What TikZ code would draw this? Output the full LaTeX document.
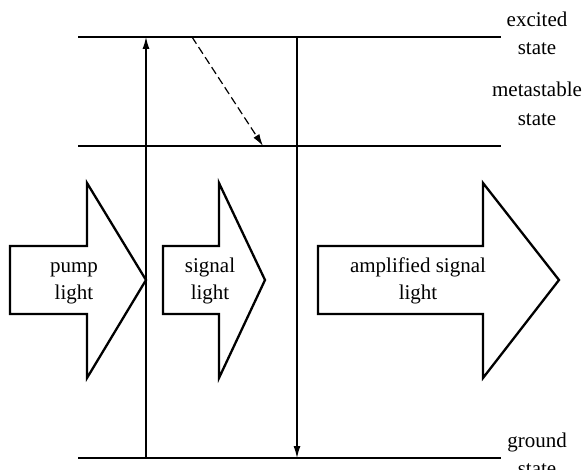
\documentclass[tikz,border=0pt]{standalone}
\usepackage{fontspec}
\setmainfont{Liberation Serif}
\usetikzlibrary{arrows.meta}
\begin{document}
\begin{tikzpicture}[x=1pt,y=-1pt,
  level/.style={line width=2.5pt},
  trans/.style={line width=1.2pt,-{Latex[length=12pt,width=7pt]}},
  dtrans/.style={line width=1.2pt,dash pattern=on 8pt off 4pt,-{Latex[length=12pt,width=7pt]}},
  blockarrow/.style={line width=2.3pt,line join=miter},
  lbl/.style={inner sep=0pt,anchor=base,font=\fontsize{21}{26}\selectfont}]
\useasboundingbox (0,0) rectangle (584,470);
% energy levels
\coordinate (exL) at (78,37);   \coordinate (exR) at (501,37);
\coordinate (meL) at (78,146);  \coordinate (meR) at (501,146);
\coordinate (grL) at (78,458);  \coordinate (grR) at (501,458);
\draw[level] (exL) -- (exR);
\draw[level] (meL) -- (meR);
\draw[level] (grL) -- (grR);
% level labels
\node[lbl] (ex1) at (537,27) {excited};
\node[lbl] (ex2) at (537,55) {state};
\node[lbl] (me1) at (537,97) {metastable};
\node[lbl] (me2) at (537,126) {state};
\node[lbl] (gr1) at (537,447) {ground};
\node[lbl] (gr2) at (537,475) {state};
% transitions
\coordinate (upB) at (146,458); \coordinate (upT) at (146,37);
\coordinate (dnT) at (297,37);  \coordinate (dnB) at (297,458);
\coordinate (dsA) at (192,37);  \coordinate (dsB) at (263,146);
\draw[trans] (upB) -- (upT);
\draw[trans] (dnT) -- (dnB);
\draw[dtrans] (dsA) -- (dsB);
% block arrows
\draw[blockarrow] (10,246) -- (87,246) -- (87,183) -- (146,280) -- (87,378) -- (87,314) -- (10,314) -- cycle;
\draw[blockarrow] (163,246) -- (219,246) -- (219,183) -- (265,280) -- (219,378) -- (219,314) -- (163,314) -- cycle;
\draw[blockarrow] (318,246) -- (483,246) -- (483,183) -- (559,280) -- (483,378) -- (483,314) -- (318,314) -- cycle;
% arrow texts
\node[lbl] (pu1) at (74,273) {pump};
\node[lbl] (pu2) at (74,300) {light};
\node[lbl] (si1) at (210,273) {signal};
\node[lbl] (si2) at (210,300) {light};
\node[lbl] (am1) at (418,273) {amplified signal};
\node[lbl] (am2) at (418,300) {light};
\end{tikzpicture}
\end{document}
